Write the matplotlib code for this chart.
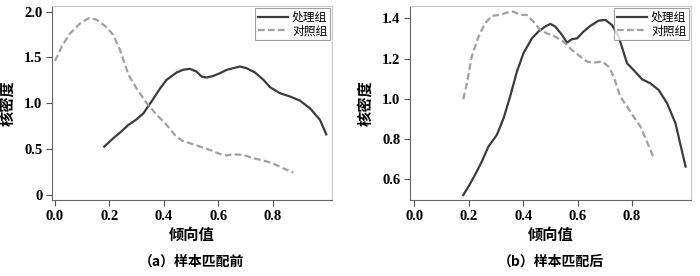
import matplotlib
matplotlib.use('Agg')
import matplotlib.pyplot as plt

plt.rcParams['font.family'] = 'Liberation Serif'
plt.rcParams['font.weight'] = 'bold'
plt.rcParams['font.size'] = 10.5
CJK = 'Noto Sans CJK SC'

# panel (a): before matching
a_treat_x = [0.181, 0.214, 0.239, 0.27, 0.30, 0.325, 0.355, 0.386, 0.41, 0.447, 0.47, 0.496,
             0.52, 0.539, 0.557, 0.582, 0.606, 0.631, 0.655, 0.68, 0.704, 0.735, 0.766,
             0.79, 0.827, 0.864, 0.90, 0.937, 0.974, 0.997]
a_treat_y = [0.527, 0.618, 0.68, 0.764, 0.825, 0.89, 1.02, 1.16, 1.255, 1.335, 1.364, 1.375,
             1.345, 1.29, 1.28, 1.298, 1.327, 1.364, 1.382, 1.40, 1.382, 1.335, 1.255,
             1.175, 1.109, 1.073, 1.029, 0.945, 0.818, 0.66]
a_ctrl_x = [0.0, 0.025, 0.055, 0.092, 0.126, 0.153, 0.187, 0.214, 0.239, 0.27, 0.30, 0.337,
            0.374, 0.41, 0.44, 0.466, 0.496, 0.533, 0.57, 0.606, 0.631, 0.655, 0.692, 0.729,
            0.766, 0.80, 0.839, 0.876]
a_ctrl_y = [1.46, 1.62, 1.76, 1.87, 1.93, 1.91, 1.836, 1.745, 1.58, 1.31, 1.16, 1.0,
            0.873, 0.764, 0.655, 0.593, 0.564, 0.527, 0.49, 0.447, 0.43, 0.444, 0.436, 0.40,
            0.375, 0.345, 0.29, 0.244]

# panel (b): after matching
b_treat_x = [0.18, 0.199, 0.223, 0.248, 0.272, 0.303, 0.328, 0.352, 0.377, 0.401, 0.432, 0.456,
             0.481, 0.50, 0.518, 0.543, 0.561, 0.579, 0.598, 0.622, 0.647, 0.677, 0.702,
             0.726, 0.751, 0.782, 0.806, 0.837, 0.867, 0.898, 0.929, 0.96, 0.997]
b_treat_y = [0.522, 0.564, 0.622, 0.688, 0.762, 0.82, 0.903, 1.011, 1.135, 1.226, 1.30, 1.334,
             1.359, 1.372, 1.359, 1.317, 1.279, 1.296, 1.30, 1.334, 1.362, 1.388, 1.392,
             1.367, 1.309, 1.176, 1.143, 1.097, 1.077, 1.044, 0.978, 0.878, 0.663]
b_ctrl_x = [0.18, 0.193, 0.211, 0.236, 0.26, 0.285, 0.315, 0.34, 0.364, 0.389, 0.413, 0.438,
            0.463, 0.487, 0.518, 0.548, 0.579, 0.61, 0.634, 0.665, 0.69, 0.714, 0.733, 0.757,
            0.782, 0.806, 0.831, 0.855, 0.882]
b_ctrl_y = [0.998, 1.077, 1.21, 1.309, 1.375, 1.412, 1.417, 1.428, 1.433, 1.417, 1.417, 1.383,
            1.342, 1.325, 1.309, 1.284, 1.243, 1.21, 1.185, 1.18, 1.185, 1.16, 1.11, 1.011,
            0.961, 0.911, 0.862, 0.787, 0.70]

x_ticks = [0.0, 0.2, 0.4, 0.6, 0.8]
x_labels = ['0.0', '0.2', '0.4', '0.6', '0.8']
a_yticks = [0, 0.5, 1.0, 1.5, 2.0]
a_ylabels = ['0', '0.5', '1.0', '1.5', '2.0']
b_yticks = [0.6, 0.8, 1.0, 1.2, 1.4]
b_ylabels = ['0.6', '0.8', '1.0', '1.2', '1.4']

fig = plt.figure(figsize=(7, 2.76), dpi=100)
ax1 = fig.add_axes([52 / 700, 1 - 200 / 276, 280 / 700, 194 / 276])
ax2 = fig.add_axes([410 / 700, 1 - 200 / 276, 281 / 700, 194 / 276])

panels = [
    (ax1, a_treat_x, a_treat_y, a_ctrl_x, a_ctrl_y, a_yticks, a_ylabels,
     (-0.011, 1.018), (-0.055, 2.06), '（a）样本匹配前'),
    (ax2, b_treat_x, b_treat_y, b_ctrl_x, b_ctrl_y, b_yticks, b_ylabels,
     (-0.016, 1.017), (0.497, 1.461), '（b）样本匹配后'),
]

for ax, tx, ty, cx, cy, yt, yl, xlim, ylim, sub in panels:
    ax.plot(tx, ty, color='#3c3c3c', lw=1.6, label='处理组')
    ax.plot(cx, cy, color='#a0a0a0', lw=1.6, ls=(0, (3, 1.5)), label='对照组')
    ax.set_xlim(*xlim)
    ax.set_ylim(*ylim)
    ax.set_xticks(x_ticks)
    ax.set_xticklabels(x_labels)
    ax.set_yticks(yt)
    ax.set_yticklabels(yl)
    ax.tick_params(direction='out', length=4, width=0.8, color='#555555', pad=3)
    for s in ['left', 'bottom']:
        ax.spines[s].set_color('#666666')
        ax.spines[s].set_linewidth(0.8)
    for s in ['top', 'right']:
        ax.spines[s].set_color('#c8c8c8')
        ax.spines[s].set_linewidth(0.8)
    ax.set_xlabel('倾向值', fontsize=11, fontweight='bold', labelpad=3, family=CJK)
    ax.set_ylabel('核密度', fontsize=11, fontweight='bold', labelpad=6, family=CJK)
    leg = ax.legend(loc='upper right', frameon=True, fancybox=False,
                    prop={'family': CJK, 'size': 8.5, 'weight': 'normal'},
                    borderpad=0.2, handlelength=2.6, handletextpad=0.3, labelspacing=0.05,
                    borderaxespad=0.2)
    leg.get_frame().set_edgecolor('#888888')
    leg.get_frame().set_linewidth(0.8)
    pos = ax.get_position()
    fig.text((pos.x0 + pos.x1) / 2, 1 - 262 / 276, sub, ha='center', va='center',
             fontsize=10, fontweight='bold', family=CJK)

fig.savefig('out.png', dpi=100)
